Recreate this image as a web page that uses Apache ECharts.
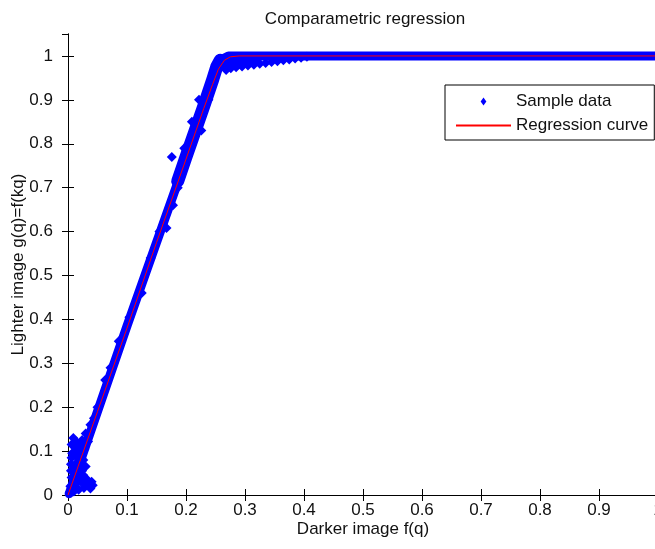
<!DOCTYPE html>
<html>
<head>
<meta charset="utf-8">
<title>Comparametric regression</title>
<script src="https://cdn.jsdelivr.net/npm/echarts@6/dist/echarts.min.js"></script>
<style>
  html, body { margin: 0; padding: 0; background: #fff; }
  #chart { width: 655px; height: 549px; }
</style>
</head>
<body>
<div id="chart"></div>
<script>
// regression curve
var regressionX = [0, 0.05, 0.1, 0.15, 0.2, 0.23, 0.245, 0.255, 0.265, 0.275, 0.29, 1.0];
var regressionY = [0, 0.19, 0.38, 0.575, 0.765, 0.88, 0.935, 0.97, 0.99, 0.998, 1.0, 1.0];

// dense middle of the sample cloud
var sampleCoreX = [0.002, 0.05, 0.1, 0.15, 0.2, 0.23, 0.245, 0.255, 0.262, 0.272, 0.3, 1.0];
var sampleCoreY = [0.003, 0.19, 0.385, 0.575, 0.765, 0.88, 0.94, 0.975, 0.993, 1.0, 1.0, 1.0];

// wider part of the cloud just below the knee
var sampleWideX = [0.186, 0.2, 0.23, 0.245, 0.252, 0.258];
var sampleWideY = [0.715, 0.77, 0.885, 0.945, 0.975, 0.99];

// scattered samples near the origin
var sampleOrigin = [
    [0.003, 0.006], [0.01, 0.008], [0.018, 0.012], [0.027, 0.016], [0.036, 0.022],
    [0.04, 0.03], [0.032, 0.036], [0.022, 0.03], [0.012, 0.025], [0.006, 0.04],
    [0.014, 0.05], [0.024, 0.055], [0.005, 0.07], [0.016, 0.075], [0.026, 0.08],
    [0.007, 0.095], [0.018, 0.1], [0.028, 0.105], [0.006, 0.115], [0.014, 0.122],
    [0.024, 0.125], [0.034, 0.122], [0.009, 0.13], [0.03, 0.14], [0.038, 0.16], [0.044, 0.175],
    [0.005, 0.055], [0.006, 0.085], [0.02, 0.04], [0.03, 0.025], [0.02, 0.088], [0.03, 0.065],
    [0.012, 0.04], [0.01, 0.065], [0.022, 0.065], [0.012, 0.09], [0.024, 0.095], [0.012, 0.108],
    [0.02, 0.115], [0.004, 0.02], [0.014, 0.018], [0.026, 0.045], [0.038, 0.015], [0.042, 0.022]
];

// rough edges of the rising part
var sampleSlope = [
    [0.05, 0.2], [0.063, 0.262], [0.072, 0.29], [0.086, 0.35], [0.104, 0.405],
    [0.125, 0.46], [0.14, 0.54], [0.155, 0.6], [0.167, 0.608], [0.178, 0.66],
    [0.176, 0.77], [0.186, 0.7], [0.197, 0.79], [0.21, 0.85], [0.222, 0.9],
    [0.226, 0.83], [0.238, 0.9]
];

// spread under the knee
var sampleKnee = [
    [0.265, 0.975], [0.272, 0.984], [0.28, 0.986], [0.29, 0.987], [0.3, 0.989],
    [0.31, 0.99], [0.32, 0.991],
    [0.268, 0.968], [0.276, 0.972], [0.285, 0.974], [0.295, 0.976], [0.305, 0.978],
    [0.315, 0.98], [0.325, 0.982], [0.335, 0.984], [0.345, 0.986], [0.355, 0.988],
    [0.365, 0.99], [0.375, 0.992], [0.385, 0.994], [0.395, 0.996], [0.405, 0.998]
];

var FONT = 'Liberation Sans, Arial, sans-serif';
var TEXT = '#111';

function pairs(xs, ys) {
    var out = [];
    for (var i = 0; i < xs.length; i++) {
        out.push([xs[i], ys[i]]);
    }
    return out;
}

var myChart = echarts.init(document.getElementById('chart'));

var boxAxis = {
    axisLine: { show: true, lineStyle: { color: '#000', width: 1 } },
    axisTick: { show: true, inside: true, length: 6, lineStyle: { color: '#000' } },
    splitLine: { show: false }
};

function bandLine(xs, ys, width) {
    return {
        name: 'Sample data',
        type: 'line',
        symbol: 'none',
        itemStyle: { color: '#0000ff' },
        lineStyle: { color: '#0000ff', width: width, join: 'round', cap: 'round' },
        data: pairs(xs, ys)
    };
}

var option = {
    animation: false,
    backgroundColor: '#fff',
    title: {
        text: 'Comparametric regression',
        left: 360,
        top: 6,
        textAlign: 'center',
        textStyle: { fontFamily: FONT, fontSize: 17, fontWeight: 'normal', color: TEXT }
    },
    legend: {
        orient: 'vertical',
        left: 445,
        top: 85,
        align: 'left',
        padding: [8, 6, 6, 10],
        itemWidth: 55,
        itemHeight: 8,
        itemGap: 7,
        selectedMode: false,
        borderColor: '#000',
        borderWidth: 1,
        borderRadius: 0,
        backgroundColor: '#fff',
        textStyle: { fontFamily: FONT, fontSize: 17, color: TEXT },
        data: [
            { name: 'Sample data', icon: 'path://M0,0L5,7L0,14L-5,7Z', itemStyle: { color: '#0000ff' } },
            { name: 'Regression curve', itemStyle: { opacity: 0 } }
        ]
    },
    grid: { left: 68, right: -3, top: 34, bottom: 54, containLabel: false, outerBoundsMode: 'none' },
    xAxis: [
        Object.assign({
            type: 'value', position: 'bottom', min: 0, max: 1, interval: 0.1,
            name: 'Darker image f(q)', nameLocation: 'middle', nameGap: 26, nameMoveOverlap: false,
            nameTextStyle: { fontFamily: FONT, fontSize: 17, color: TEXT },
            axisLabel: { margin: 7, fontFamily: FONT, fontSize: 17, color: TEXT }
        }, boxAxis),
        Object.assign({
            type: 'value', position: 'top', min: 0, max: 1, interval: 0.1,
            axisLabel: { show: false }
        }, boxAxis)
    ],
    yAxis: [
        Object.assign({
            type: 'value', position: 'left', min: 0, max: 1.05, interval: 0.1,
            name: 'Lighter image g(q)=f(kq)', nameLocation: 'middle', nameGap: 41, nameMoveOverlap: false,
            nameTextStyle: { fontFamily: FONT, fontSize: 17, color: TEXT },
            axisLabel: { margin: 15, showMaxLabel: false, fontFamily: FONT, fontSize: 17, color: TEXT }
        }, boxAxis),
        Object.assign({
            type: 'value', position: 'right', min: 0, max: 1.05, interval: 0.1,
            axisLabel: { show: false }
        }, boxAxis)
    ],
    series: [
        {
            name: 'Sample data',
            type: 'scatter',
            symbol: 'diamond',
            symbolSize: 10,
            itemStyle: { color: '#0000ff', opacity: 1 },
            data: sampleOrigin.concat(sampleSlope, sampleKnee)
        },
        bandLine(sampleCoreX, sampleCoreY, 9),
        bandLine(sampleWideX, sampleWideY, 13),
        {
            name: 'Regression curve',
            type: 'line',
            symbol: 'none',
            itemStyle: { color: '#ff0000' },
            lineStyle: { color: '#ff0000', width: 1 },
            data: pairs(regressionX, regressionY)
        }
    ]
};

myChart.setOption(option);
</script>
</body>
</html>
